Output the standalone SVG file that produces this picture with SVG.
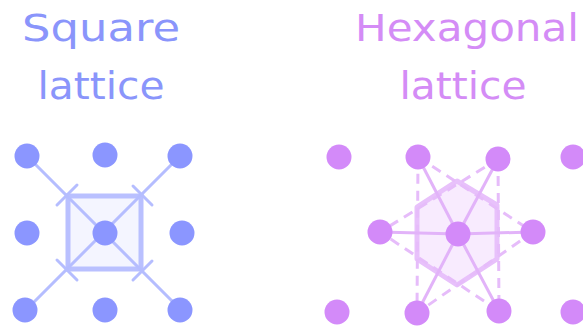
<svg xmlns="http://www.w3.org/2000/svg" width="583" height="331" viewBox="0 0 583 331">
  <style>
    .title { font-family: "DejaVu Sans", "Liberation Sans", sans-serif; font-size: 37px; }
    .sq-title { fill: #8a95fb; }
    .hx-title { fill: #d48cf6; }
    .sq-dot { fill: #8b96ff; }
    .hx-dot { fill: #d38af9; }
    .sq-line { stroke: #b5bdff; stroke-width: 3; fill: none; stroke-linecap: round; }
    .sq-cell { stroke: #b9c0ff; stroke-width: 5; fill: #f4f5ff; }
    .hx-line { stroke: #e2b3f9; stroke-width: 3; fill: none; }
    .hx-dash { stroke: #e6bcfa; stroke-width: 3; fill: none; stroke-dasharray: 10 7; }
    .hx-cell { stroke: #e8c1fb; stroke-width: 5; fill: #f8ebfe; stroke-linejoin: round; }
  </style>

  <!-- titles -->
  <g id="title-square">
    <text class="title sq-title" x="101" y="41" text-anchor="middle" textLength="158" lengthAdjust="spacingAndGlyphs">Square</text>
    <text class="title sq-title" x="101" y="99" text-anchor="middle" textLength="127" lengthAdjust="spacingAndGlyphs">lattice</text>
  </g>
  <g id="title-hexagonal">
    <text class="title hx-title" x="467" y="41" text-anchor="middle" textLength="224" lengthAdjust="spacingAndGlyphs">Hexagonal</text>
    <text class="title hx-title" x="463" y="99" text-anchor="middle" textLength="127" lengthAdjust="spacingAndGlyphs">lattice</text>
  </g>

  <!-- square lattice: unit cell and connectors -->
  <g id="square-cell">
    <rect class="sq-cell" x="68" y="196" width="73" height="73"/>
  </g>
  <g id="square-connectors">
    <line class="sq-line" x1="27" y1="156" x2="181" y2="310"/>
    <line class="sq-line" x1="180" y1="156" x2="26" y2="310"/>
    <!-- ticks at cell corners -->
    <line class="sq-line" x1="57" y1="205" x2="77" y2="185"/>
    <line class="sq-line" x1="133" y1="186" x2="152" y2="205"/>
    <line class="sq-line" x1="57" y1="260" x2="77" y2="280"/>
    <line class="sq-line" x1="133" y1="280" x2="152" y2="261"/>
  </g>
  <g id="square-nodes">
    <circle class="sq-dot" cx="27" cy="156" r="12.5"/>
    <circle class="sq-dot" cx="105" cy="155" r="12.5"/>
    <circle class="sq-dot" cx="180" cy="156" r="12.5"/>
    <circle class="sq-dot" cx="27" cy="233" r="12.5"/>
    <circle class="sq-dot" cx="105" cy="233" r="12.5"/>
    <circle class="sq-dot" cx="182" cy="233" r="12.5"/>
    <circle class="sq-dot" cx="25" cy="310" r="12.5"/>
    <circle class="sq-dot" cx="105" cy="310" r="12.5"/>
    <circle class="sq-dot" cx="180" cy="310" r="12.5"/>
  </g>

  <!-- hexagonal lattice: Wigner-Seitz cell and connectors -->
  <g id="hex-cell">
    <polygon class="hx-cell" points="457,181 497,205 497,259 457,285 417,259 417,207"/>
  </g>
  <g id="hex-connectors">
    <!-- two interleaved dashed triangles -->
    <polygon class="hx-dash" points="418,157 533,232 417,313"/>
    <polygon class="hx-dash" points="498,159 499,311 380,232"/>
    <!-- nearest-neighbour bonds -->
    <line class="hx-line" x1="458" y1="234" x2="418" y2="157"/>
    <line class="hx-line" x1="458" y1="234" x2="498" y2="159"/>
    <line class="hx-line" x1="458" y1="234" x2="380" y2="232"/>
    <line class="hx-line" x1="458" y1="234" x2="533" y2="232"/>
    <line class="hx-line" x1="458" y1="234" x2="417" y2="313"/>
    <line class="hx-line" x1="458" y1="234" x2="499" y2="311"/>
  </g>
  <g id="hex-nodes">
    <circle class="hx-dot" cx="339" cy="157" r="12.5"/>
    <circle class="hx-dot" cx="418" cy="157" r="12.5"/>
    <circle class="hx-dot" cx="498" cy="159" r="12.5"/>
    <circle class="hx-dot" cx="573" cy="157" r="12.5"/>
    <circle class="hx-dot" cx="380" cy="232" r="12.5"/>
    <circle class="hx-dot" cx="458" cy="234" r="12.5"/>
    <circle class="hx-dot" cx="533" cy="232" r="12.5"/>
    <circle class="hx-dot" cx="337" cy="312" r="12.5"/>
    <circle class="hx-dot" cx="417" cy="313" r="12.5"/>
    <circle class="hx-dot" cx="499" cy="311" r="12.5"/>
    <circle class="hx-dot" cx="573" cy="312" r="12.5"/>
  </g>
</svg>
